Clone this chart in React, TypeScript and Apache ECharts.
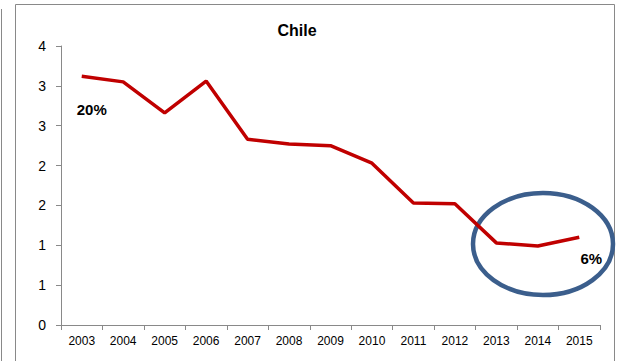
import React, { useEffect, useRef } from "react";
import * as echarts from "echarts";

const years = ["2003", "2004", "2005", "2006", "2007", "2008", "2009", "2010", "2011", "2012", "2013", "2014", "2015"];
const values = [3.12, 3.05, 2.66, 3.06, 2.33, 2.27, 2.25, 2.03, 1.53, 1.52, 1.03, 0.99, 1.1];
const annotations: Record<number, string> = { 0: "20%", 12: "6%" };
const title = "Chile";

export default function App() {
  const ref = useRef<HTMLDivElement>(null);
  useEffect(() => {
    if (!ref.current) return;
    const chart = echarts.init(ref.current, null, { renderer: "svg" });
    const font = "'Liberation Sans', Arial, sans-serif";
    const data = values.map((v, i) => {
      if (annotations[i] === undefined) return v;
      return {
        value: v,
        label: {
          show: true,
          formatter: annotations[i],
          position: i === 0 ? [10, 33] : [12, 21],
          align: "center",
          verticalAlign: "middle",
          fontFamily: font,
          fontWeight: "bold",
          fontSize: 15,
          color: "#000",
        },
      };
    });
    chart.setOption({
      animation: false,
      backgroundColor: "#fff",
      title: {
        text: title,
        left: 292,
        top: 17,
        textAlign: "center",
        textStyle: { fontFamily: font, fontWeight: "bold", fontSize: 16, color: "#000" },
      },
      grid: { left: 61, right: 17, top: 46, bottom: 36, containLabel: false },
      xAxis: {
        type: "category",
        data: years,
        boundaryGap: true,
        axisLine: { lineStyle: { color: "#898989", width: 1 } },
        axisTick: { show: true, interval: 0, length: 5, lineStyle: { color: "#898989" } },
        axisLabel: { interval: 0, margin: 10, fontFamily: font, fontSize: 12, color: "#000" },
        splitLine: { show: false },
      },
      yAxis: {
        type: "value",
        min: 0,
        max: 3.5,
        interval: 0.5,
        axisLine: { show: true, lineStyle: { color: "#898989", width: 1 } },
        axisTick: { show: true, length: 5, lineStyle: { color: "#898989" } },
        axisLabel: {
          margin: 15,
          fontFamily: font,
          fontSize: 14,
          color: "#000",
          formatter: (v: number) => String(Math.round(v)),
        },
        splitLine: { show: false },
      },
      series: [
        {
          type: "line",
          data,
          symbol: "circle",
          symbolSize: 0,
          showSymbol: true,
          lineStyle: { color: "#C00000", width: 3.5 },
          itemStyle: { color: "#C00000" },
          label: { show: false },
        },
      ],
      graphic: [
        {
          type: "rect",
          shape: { x: 15.5, y: 4.5, width: 599, height: 420 },
          style: { fill: "none", stroke: "#898989", lineWidth: 1 },
          silent: true,
        },
        {
          type: "line",
          shape: { x1: 1.5, y1: 9, x2: 1.5, y2: 361 },
          style: { stroke: "#898989", lineWidth: 1 },
          silent: true,
        },
        {
          type: "ellipse",
          shape: { cx: 543, cy: 244, rx: 70, ry: 51 },
          style: { fill: "none", stroke: "#3B5E8C", lineWidth: 4.5 },
          silent: true,
        },
      ],
    });
    return () => chart.dispose();
  }, []);
  return (
    <div
      ref={ref}
      style={{ position: "fixed", left: 0, top: 0, width: 617, height: 361 }}
    />
  );
}
